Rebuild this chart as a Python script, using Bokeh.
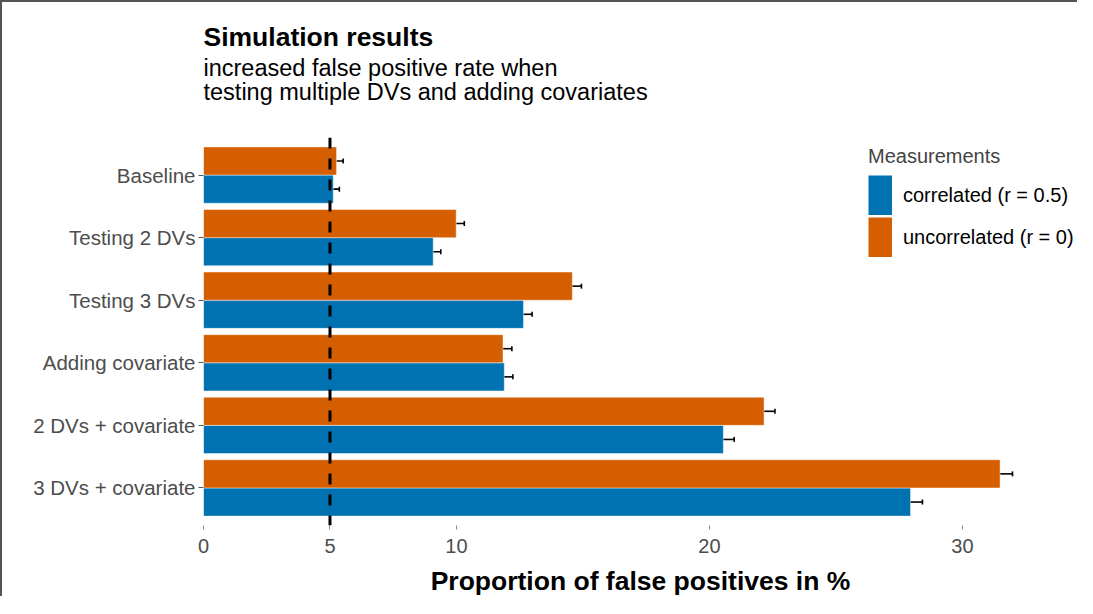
from bokeh.plotting import figure
from bokeh.models import (ColumnDataSource, Whisker, TeeHead, Span, Legend, LegendItem,
                          FixedTicker, Title, Range1d)
from bokeh.embed import file_html
from bokeh.resources import INLINE

categories = ["3 DVs + covariate", "2 DVs + covariate", "Adding covariate",
              "Testing 3 DVs", "Testing 2 DVs", "Baseline"]
correlated = [27.95, 20.55, 11.89, 12.65, 9.08, 5.13]
uncorrelated = [31.49, 22.16, 11.84, 14.58, 9.99, 5.26]
correlated_err = [0.47, 0.43, 0.34, 0.34, 0.30, 0.24]
uncorrelated_err = [0.49, 0.43, 0.35, 0.36, 0.32, 0.26]
series_labels = ["correlated (r = 0.5)", "uncorrelated (r = 0)"]
x_ticks = [0, 5, 10, 20, 30]
reference_line = 5
title_text = "Simulation results"
subtitle_lines = ["increased false positive rate when",
                  "testing multiple DVs and adding covariates"]

BLUE = "#0072B2"
ORANGE = "#D55E00"
FONT = "Liberation Sans"
GREY = "#4D4D4D"
NAN = float("nan")

pos = list(range(1, len(categories) + 1))
dodge = 0.225
src_c = ColumnDataSource(dict(
    y=[p_ - dodge for p_ in pos], x=correlated,
    lo=[v - e for v, e in zip(correlated, correlated_err)],
    hi=[v + e for v, e in zip(correlated, correlated_err)]))
src_u = ColumnDataSource(dict(
    y=[p_ + dodge for p_ in pos], x=uncorrelated,
    lo=[v - e for v, e in zip(uncorrelated, uncorrelated_err)],
    hi=[v + e for v, e in zip(uncorrelated, uncorrelated_err)]))

p = figure(width=1077, height=596, output_backend="svg", toolbar_location=None,
           x_range=Range1d(0, 34.55), y_range=Range1d(0.4, 6.6),
           min_border_left=201, min_border_right=2, min_border_bottom=73, min_border_top=135)
p.styles = {"border-left": "2px solid #555555", "border-top": "2px solid #555555"}
p.outline_line_color = None
p.xgrid.visible = False
p.ygrid.visible = False
p.background_fill_color = "white"

r_c = p.hbar(y="y", right="x", left=0, height=0.45, source=src_c,
             fill_color=BLUE, line_color="white", line_alpha=0.45, line_width=1)
r_u = p.hbar(y="y", right="x", left=0, height=0.45, source=src_u,
             fill_color=ORANGE, line_color="white", line_alpha=0.45, line_width=1)

for s in (src_c, src_u):
    w = Whisker(source=s, base="y", lower="lo", upper="hi", dimension="width",
                line_color="black", line_width=1.6,
                lower_head=TeeHead(size=5, line_color="black", line_width=1.6),
                upper_head=TeeHead(size=5, line_color="black", line_width=1.6))
    p.add_layout(w)

p.add_layout(Span(location=reference_line, dimension="height", line_color="black",
                  line_width=3, line_dash="11 10"))

# axes
xa = p.xaxis[0]
xa.ticker = FixedTicker(ticks=x_ticks)
xa.axis_line_color = None
xa.major_tick_line_color = "#888888"
xa.major_tick_out = 4
xa.major_tick_in = 0
xa.minor_tick_line_color = None
xa.major_label_text_font = FONT
xa.major_label_text_font_size = "20px"
xa.major_label_text_color = GREY
xa.major_label_standoff = 9
xa.axis_label = "Proportion of false positives in %"
xa.axis_label_text_font = FONT
xa.axis_label_text_font_size = "26.5px"
xa.axis_label_text_font_style = "bold"
xa.axis_label_text_color = "black"
xa.axis_label_standoff = 10

ya = p.yaxis[0]
ya.ticker = FixedTicker(ticks=pos)
ya.major_label_overrides = {p_: c for p_, c in zip(pos, categories)}
ya.axis_line_color = None
ya.major_tick_line_color = "#555555"
ya.major_tick_out = 5
ya.major_tick_in = 0
ya.minor_tick_line_color = None
ya.major_label_text_font = FONT
ya.major_label_text_font_size = "20.5px"
ya.major_label_text_color = GREY
ya.major_label_standoff = 3

# legend swatches: hidden (NaN) line renderers drawn as thick butt-capped strokes
sw_c = p.line(x=[NAN], y=[NAN], line_color=BLUE, line_width=40, line_cap="butt")
sw_u = p.line(x=[NAN], y=[NAN], line_color=ORANGE, line_width=40, line_cap="butt")
legend = Legend(items=[LegendItem(label=series_labels[0], renderers=[sw_c]),
                       LegendItem(label=series_labels[1], renderers=[sw_u])],
                location=(665, 268), title="Measurements",
                title_text_font=FONT, title_text_font_size="20px",
                title_text_font_style="normal", title_standoff=7,
                label_text_font=FONT, label_text_font_size="20px",
                label_text_color="black", glyph_width=24, glyph_height=40,
                label_standoff=11, spacing=2, padding=0, margin=0,
                border_line_color=None, background_fill_alpha=0)
p.add_layout(legend)

# title block (first added sits closest to the panel); the trailing newline
# leaves the gap between the subtitle and the plot panel
p.add_layout(Title(text=subtitle_lines[1] + "\n", align="left", text_font=FONT,
                   text_font_size="23.5px", text_font_style="normal",
                   text_color="black", standoff=14), "above")
p.add_layout(Title(text=subtitle_lines[0], align="left", text_font=FONT,
                   text_font_size="23.5px", text_font_style="normal",
                   text_color="black", standoff=-22), "above")
p.add_layout(Title(text=title_text, align="left", text_font=FONT,
                   text_font_size="26.5px", text_font_style="bold",
                   text_color="black", standoff=24), "above")

open("out.html", "w").write(file_html(p, INLINE))
